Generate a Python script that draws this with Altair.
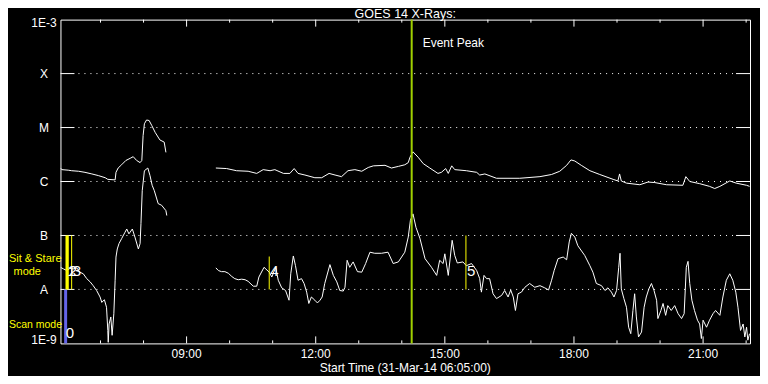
import altair as alt
import pandas as pd

# GOES-14 X-ray flux, 31-Mar-2014. Time in decimal hours (UT), flux as log10(W/m^2)
# Long channel (1-8 A), before and after the data gap
long_a_time = [6.07, 6.10, 6.25, 6.33, 6.49, 6.64, 6.80, 6.95, 7.11, 7.17,
               7.34, 7.36, 7.41, 7.49, 7.59, 7.69, 7.76, 7.84, 7.92, 7.96,
               7.99, 8.02, 8.07, 8.13, 8.19, 8.27, 8.38, 8.48, 8.52]
long_a_logflux = [-5.75, -5.78, -5.79, -5.80, -5.81, -5.83, -5.86, -5.89, -5.93, -5.96,
                  -5.97, -5.83, -5.75, -5.69, -5.61, -5.57, -5.54, -5.61, -5.65, -5.61,
                  -5.15, -4.93, -4.86, -4.87, -4.96, -5.09, -5.23, -5.27, -5.46]

long_b_time = [9.68, 9.93, 10.16, 10.43, 10.63, 10.78, 10.94, 11.05, 11.25, 11.40,
               11.50, 11.59, 11.75, 11.98, 12.14, 12.31, 12.45, 12.60, 12.75, 12.91,
               13.07, 13.22, 13.34, 13.61, 13.76, 13.92, 14.07, 14.15, 14.19, 14.26,
               14.38, 14.50, 14.65, 14.84, 14.92, 15.02, 15.08, 15.16, 15.23, 15.50,
               15.74, 15.81, 15.93, 16.20, 16.74, 17.21, 17.48, 17.67, 17.83, 17.93,
               18.02, 18.17, 18.37, 18.60, 18.91, 19.02, 19.06, 19.10, 19.22, 19.53,
               19.72, 19.88, 20.15, 20.53, 20.60, 20.69, 20.92, 21.15, 21.27, 21.39,
               21.62, 21.77, 22.01, 22.08]
long_b_logflux = [-5.75, -5.76, -5.80, -5.81, -5.85, -5.78, -5.80, -5.78, -5.85, -5.85,
                  -5.76, -5.85, -5.88, -5.93, -5.93, -5.85, -5.88, -5.91, -5.80, -5.78,
                  -5.81, -5.74, -5.71, -5.70, -5.75, -5.72, -5.69, -5.65, -5.55, -5.45,
                  -5.55, -5.67, -5.75, -5.85, -5.83, -5.76, -5.85, -5.71, -5.78, -5.80,
                  -5.83, -5.88, -5.86, -5.94, -5.94, -5.91, -5.87, -5.81, -5.70, -5.60,
                  -5.62, -5.70, -5.80, -5.87, -5.96, -5.99, -5.86, -5.99, -6.03, -6.06,
                  -6.01, -6.02, -6.06, -6.07, -5.91, -6.00, -6.04, -6.09, -6.13, -6.09,
                  -5.99, -6.03, -6.07, -6.09]

# Short channel (0.5-4 A)
short_a_time = [6.07, 6.14, 6.22, 6.29, 6.37, 6.45, 6.52, 6.60, 6.68, 6.76,
                6.83, 6.91, 6.99, 7.03, 7.09, 7.14, 7.17, 7.18, 7.20, 7.24,
                7.27, 7.31, 7.34, 7.36, 7.39, 7.43, 7.49, 7.57, 7.61, 7.66,
                7.74, 7.80, 7.88, 7.92, 7.94, 7.97, 8.02, 8.10, 8.15, 8.20,
                8.25, 8.34, 8.42, 8.52, 8.54]
short_a_logflux = [-7.59, -7.62, -7.65, -7.61, -7.62, -7.60, -7.68, -7.71, -7.80, -7.86,
                   -7.93, -8.02, -8.14, -8.24, -8.19, -8.33, -8.76, -8.98, -8.64, -8.51,
                   -8.85, -8.45, -7.83, -7.40, -7.25, -7.15, -7.06, -6.94, -6.88, -6.97,
                   -6.88, -7.03, -7.25, -7.15, -6.78, -6.17, -5.80, -5.75, -5.89, -6.07,
                   -6.17, -6.41, -6.44, -6.54, -6.63]

short_b_time = [9.68, 9.74, 9.81, 9.89, 9.97, 10.05, 10.12, 10.20, 10.28, 10.36,
                10.43, 10.55, 10.63, 10.68, 10.80, 10.92, 10.98, 11.07, 11.13, 11.21,
                11.30, 11.38, 11.42, 11.48, 11.53, 11.59, 11.67, 11.73, 11.79, 11.84,
                11.90, 11.98, 12.04, 12.10, 12.15, 12.21, 12.33, 12.41, 12.49, 12.56,
                12.64, 12.68, 12.73, 12.79, 12.87, 12.97, 13.07, 13.16, 13.26, 13.37,
                13.53, 13.68, 13.80, 13.92, 14.07, 14.15, 14.20, 14.26, 14.33, 14.42,
                14.54, 14.69, 14.81, 14.88, 14.96, 15.00, 15.08, 15.17, 15.23, 15.29,
                15.42, 15.50, 15.62, 15.74, 15.81, 15.85, 15.91, 15.97, 16.04, 16.12,
                16.20, 16.32, 16.39, 16.47, 16.53, 16.59, 16.64, 16.70, 16.78, 16.86,
                16.97, 17.09, 17.21, 17.32, 17.41, 17.48, 17.54, 17.63, 17.75, 17.83,
                17.89, 17.94, 18.02, 18.09, 18.25, 18.37, 18.44, 18.52, 18.64, 18.72,
                18.79, 18.87, 18.93, 18.99, 19.04, 19.07, 19.10, 19.16, 19.22, 19.27,
                19.32, 19.37, 19.41, 19.45, 19.50, 19.57, 19.63, 19.68, 19.74, 19.80,
                19.86, 19.92, 19.95, 20.02, 20.07, 20.13, 20.18, 20.26, 20.34, 20.42,
                20.50, 20.56, 20.61, 20.65, 20.69, 20.74, 20.80, 20.87, 20.92, 20.96,
                21.00, 21.08, 21.15, 21.23, 21.29, 21.39, 21.46, 21.54, 21.62, 21.69,
                21.76, 21.81, 21.87, 21.93, 21.97, 22.01, 22.04, 22.08]
short_b_logflux = [-7.60, -7.65, -7.67, -7.67, -7.70, -7.76, -7.80, -7.82, -7.81, -7.82,
                   -7.85, -7.94, -7.94, -7.77, -7.59, -7.68, -7.77, -7.59, -7.83, -7.97,
                   -8.02, -8.20, -7.71, -7.38, -7.56, -7.83, -7.80, -7.89, -8.05, -8.26,
                   -8.14, -8.20, -8.25, -8.20, -8.14, -7.89, -7.54, -7.74, -7.86, -8.02,
                   -8.03, -7.96, -7.46, -7.59, -7.49, -7.67, -7.68, -7.52, -7.31, -7.33,
                   -7.33, -7.31, -7.52, -7.49, -7.31, -7.03, -6.72, -6.60, -6.85, -7.05,
                   -7.43, -7.59, -7.74, -7.46, -7.52, -7.34, -7.74, -7.09, -7.37, -7.51,
                   -7.49, -7.56, -7.52, -7.65, -7.80, -8.05, -7.74, -7.80, -7.80, -8.08,
                   -8.17, -8.11, -8.02, -8.14, -8.01, -8.14, -8.39, -8.08, -8.05, -7.96,
                   -7.89, -7.96, -7.93, -7.97, -8.01, -7.83, -7.65, -7.43, -7.40, -7.45,
                   -7.12, -6.96, -7.03, -7.19, -7.37, -7.56, -7.68, -7.89, -7.93, -8.02,
                   -7.97, -8.05, -8.14, -8.02, -7.59, -7.33, -7.99, -8.17, -8.33, -8.70,
                   -8.82, -8.39, -8.08, -8.51, -8.88, -8.79, -8.33, -8.14, -7.99, -7.89,
                   -8.02, -8.20, -8.54, -8.39, -8.26, -8.48, -8.30, -8.39, -8.30, -8.45,
                   -8.54, -8.45, -7.59, -7.48, -7.89, -8.20, -8.39, -8.57, -8.64, -8.91,
                   -8.57, -8.70, -8.57, -8.45, -8.39, -8.48, -8.14, -7.83, -7.71, -7.83,
                   -8.05, -8.33, -8.76, -8.64, -8.88, -8.70, -8.94, -8.82]

# Flux class levels (log10 W/m^2) and their labels
level_values = [-9, -8, -7, -6, -5, -4, -3]
level_labels = ["1E-9", "A", "B", "C", "M", "X", "1E-3"]

# Hourly ticks and labelled hours
tick_hours = list(range(7, 23))
label_hours = [9, 12, 15, 18, 21]
label_texts = ["09:00", "12:00", "15:00", "18:00", "21:00"]

# Event peak and observing-mode markers
event_peak_time = 14.23
mode_ids = ["0", "1", "2", "3", "4", "5"]
mode_times = [6.19, 6.21, 6.24, 6.33, 10.92, 15.49]
mode_kinds = ["scan", "sit", "sit", "sit", "sit", "sit"]
mode_top = [-8.0, -7.0, -7.0, -7.0, -7.39, -7.0]
mode_bottom = [-9.0, -8.0, -8.0, -8.0, -8.0, -8.0]

# ---------------------------------------------------------------- tables
def segment(times, vals, name):
    return pd.DataFrame({"h": times, "L": vals, "seg": name, "i": list(range(len(times)))})

series = pd.concat([
    segment(long_a_time, long_a_logflux, "long_a"),
    segment(long_b_time, long_b_logflux, "long_b"),
    segment(short_a_time, short_a_logflux, "short_a"),
    segment(short_b_time, short_b_logflux, "short_b"),
], ignore_index=True)

levels = pd.DataFrame({"L": level_values, "label": level_labels})
ticks = pd.DataFrame({"h": tick_hours, "major": [h % 3 == 0 for h in tick_hours]})
hour_lbl = pd.DataFrame({"h": label_hours, "label": label_texts})
modes = pd.DataFrame({"id": mode_ids, "h": mode_times, "kind": mode_kinds,
                      "top": mode_top, "bottom": mode_bottom})
peak = pd.DataFrame({"h": [event_peak_time], "label": ["Event Peak"]})

FONT = "Liberation Sans"
W, H = 690, 324
xs = alt.Scale(domain=[6.070, 22.090], nice=False, zero=False)
ys = alt.Scale(domain=[-9, -3], nice=False, zero=False)
X = alt.X("h:Q", scale=xs, axis=None)
Y = alt.Y("L:Q", scale=ys, axis=None)
INNER = "datum.L > -9 && datum.L < -3"

# grid / ticks
grid = alt.Chart(levels).transform_filter(INNER).mark_rule(
    color="white", strokeDash=[1, 5], strokeDashOffset=2, strokeWidth=1
).encode(y=Y, x=alt.value(14), x2=alt.value(W - 14))
ytick_l = alt.Chart(levels).transform_filter(INNER).mark_rule(
    color="white").encode(y=Y, x=alt.value(0), x2=alt.value(14))
ytick_r = alt.Chart(levels).transform_filter(INNER).mark_rule(
    color="white").encode(y=Y, x=alt.value(W - 14), x2=alt.value(W))

top_minor = alt.Chart(ticks).transform_filter("!datum.major").mark_rule(color="white").encode(
    x=X, y=alt.value(0), y2=alt.value(3))
top_major = alt.Chart(ticks).transform_filter("datum.major").mark_rule(color="white").encode(
    x=X, y=alt.value(0), y2=alt.value(7))
bot_minor = alt.Chart(ticks).transform_filter("!datum.major").mark_rule(color="white").encode(
    x=X, y=alt.value(H), y2=alt.value(H - 3))
bot_major = alt.Chart(ticks).transform_filter("datum.major").mark_rule(color="white").encode(
    x=X, y=alt.value(H), y2=alt.value(H - 7))

# labels
ylab_mid = alt.Chart(levels).transform_filter(INNER).mark_text(
    color="white", font=FONT, fontSize=12, align="center", baseline="alphabetic", dy=4.5
).encode(y=Y, x=alt.value(-16.5), text="label:N")
ylab_top = alt.Chart(levels).transform_filter("datum.L == -3").mark_text(
    color="white", font=FONT, fontSize=12, align="center", baseline="alphabetic", dy=7.5
).encode(y=Y, x=alt.value(-16.5), text="label:N")
ylab_bot = alt.Chart(levels).transform_filter("datum.L == -9").mark_text(
    color="white", font=FONT, fontSize=12, align="center", baseline="alphabetic", dy=1
).encode(y=Y, x=alt.value(-16.5), text="label:N")

xlab = alt.Chart(hour_lbl).mark_text(
    color="white", font=FONT, fontSize=12, align="center", baseline="alphabetic"
).encode(x=X, y=alt.value(H + 15), text="label:N")

title_txt = alt.Chart(pd.DataFrame({"t": ["GOES 14 X-Rays:"]})).mark_text(
    color="white", font=FONT, fontSize=12.5, align="center", baseline="alphabetic"
).encode(x=alt.value(W / 2), y=alt.value(-1.5), text="t:N")
xtitle_txt = alt.Chart(pd.DataFrame({"t": ["Start Time (31-Mar-14 06:05:00)"]})).mark_text(
    color="white", font=FONT, fontSize=12, align="center", baseline="alphabetic"
).encode(x=alt.value(W / 2), y=alt.value(H + 28.5), text="t:N")

sit_txt = alt.Chart(pd.DataFrame({"t": ["Sit & Stare"]})).mark_text(
    color="#ffff00", font=FONT, fontSize=11, align="left", baseline="alphabetic"
).encode(x=alt.value(-51.5), y=alt.value(243), text="t:N")
sit_txt2 = alt.Chart(pd.DataFrame({"t": ["mode"]})).mark_text(
    color="#ffff00", font=FONT, fontSize=11, align="left", baseline="alphabetic"
).encode(x=alt.value(-47), y=alt.value(256), text="t:N")
scan_txt = alt.Chart(pd.DataFrame({"t": ["Scan mode"]})).mark_text(
    color="#ffff00", font=FONT, fontSize=10.5, align="left", baseline="alphabetic"
).encode(x=alt.value(-51.5), y=alt.value(309), text="t:N")

# data
lines = alt.Chart(series).mark_line(color="white", strokeWidth=1, clip=True).encode(
    x=X, y=Y, detail="seg:N", order="i:Q")

# mode markers
MY = alt.Y("top:Q", scale=ys, axis=None)
scan_bar = alt.Chart(modes).transform_filter("datum.kind == 'scan'").mark_rule(
    color="#6464e8", strokeWidth=3).encode(x=X, y=MY, y2="bottom:Q")
sit_thick = alt.Chart(modes).transform_filter("datum.id == '1' || datum.id == '2'").mark_rule(
    color="#ffff00", strokeWidth=2).encode(x=X, y=MY, y2="bottom:Q")
sit_thin = alt.Chart(modes).transform_filter(
    "datum.kind == 'sit' && datum.id != '1' && datum.id != '2'").mark_rule(
    color="#ffff00", strokeWidth=1).encode(x=X, y=MY, y2="bottom:Q")
sit_ids = alt.Chart(modes).transform_filter("datum.kind == 'sit'").mark_text(
    color="white", font=FONT, fontSize=15, align="left", baseline="alphabetic", dx=1
).encode(x=X, y=alt.value(257), text="id:N")
scan_ids = alt.Chart(modes).transform_filter("datum.kind == 'scan'").mark_text(
    color="white", font=FONT, fontSize=15, align="left", baseline="alphabetic", dx=0
).encode(x=X, y=alt.value(319), text="id:N")

peak_line = alt.Chart(peak).mark_rule(color="#a0d000", strokeWidth=2).encode(
    x=X, y=alt.value(0), y2=alt.value(H))
peak_txt = alt.Chart(peak).mark_text(
    color="white", font=FONT, fontSize=12, align="left", baseline="alphabetic", dx=11
).encode(x=X, y=alt.value(27.5), text="label:N")

chart = alt.layer(
    grid, ytick_l, ytick_r, top_minor, top_major, bot_minor, bot_major,
    lines, scan_bar, sit_thick, sit_thin, peak_line,
    sit_ids, scan_ids, peak_txt,
    ylab_mid, ylab_top, ylab_bot, xlab, title_txt, xtitle_txt,
    sit_txt, sit_txt2, scan_txt,
).properties(
    width=W, height=H,
    autosize=alt.AutoSizeParams(type="none"),
    padding={"left": 52.5, "top": 11.5, "right": 10, "bottom": 32},
    background="black",
).configure_view(stroke="white", strokeWidth=1)

chart.save("out.html", embed_options={"renderer": "svg", "actions": False})
